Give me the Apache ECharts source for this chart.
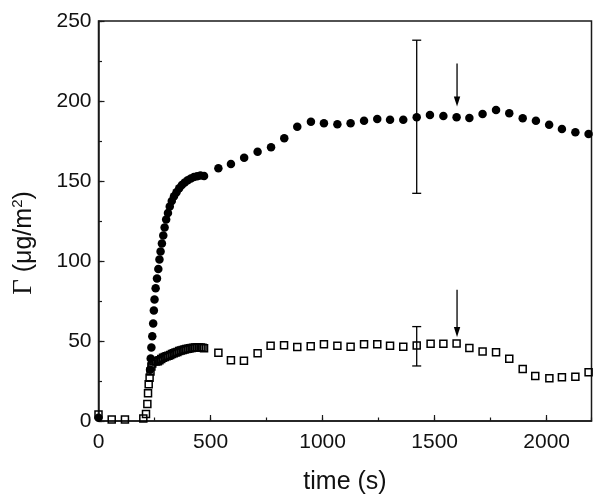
<!DOCTYPE html>
<html><head><meta charset="utf-8">
<script src="https://cdn.jsdelivr.net/npm/echarts@6/dist/echarts.min.js"></script>
<style>html,body{margin:0;padding:0;background:#fff}#c{width:600px;height:504px}</style>
</head><body><div id="c"></div>
<script>
// filled circles series
const filledT = [0, 230, 233, 236, 240, 244, 247, 250, 255, 261, 267, 272, 277, 283, 289, 295, 302, 310, 318, 327, 337, 348, 360, 372, 385, 398, 412, 426, 440, 455, 471, 535, 591, 650, 710, 770, 829, 887, 948, 1006, 1066, 1125, 1185, 1244, 1301, 1360, 1420, 1479, 1539, 1598, 1655, 1714, 1774, 1833, 1893, 1952, 2011, 2068, 2128, 2187];
const filledV = [2, 32, 39, 46, 53, 61, 69, 76, 83, 89, 95, 101, 106, 111, 116, 121, 126, 130, 134, 137.5, 140.5, 143, 145.5, 147.5, 149, 150.5, 151.5, 152.5, 153, 153.5, 153.1, 157.9, 160.6, 164.6, 168.3, 171.1, 176.7, 183.9, 187, 186.1, 185.5, 186.1, 187.7, 188.7, 188.3, 188.3, 189.8, 191.2, 190.6, 189.8, 189.4, 191.9, 194.4, 192.3, 189.2, 187.7, 185.2, 182.5, 180.4, 179.4];
// open squares series
const openT = [0, 59, 118, 200, 212, 218, 221, 224, 228, 232, 236, 240, 245, 250, 257, 265, 272, 280, 288, 296, 304, 312, 320, 328, 336, 344, 352, 360, 368, 376, 384, 392, 400, 408, 416, 424, 432, 440, 448, 456, 464, 471, 535, 591, 649, 710, 768, 828, 887, 947, 1006, 1066, 1125, 1185, 1244, 1301, 1360, 1420, 1482, 1539, 1598, 1655, 1714, 1774, 1833, 1893, 1949, 2012, 2068, 2128, 2187];
const openV = [4, 1, 1, 1.5, 4.4, 10.6, 17.3, 23, 27, 31, 34, 36, 37.3, 37.5, 37.2, 37.3, 38, 38.8, 39.5, 40, 40.4, 40.8, 41.2, 41.8, 42.3, 42.8, 43.2, 43.7, 44.1, 44.4, 44.7, 45, 45.2, 45.4, 45.6, 45.8, 45.9, 46, 46, 46, 45.8, 45.4, 42.7, 38, 37.7, 42.3, 47, 47.3, 46.2, 46.7, 48, 47, 46.4, 47.9, 47.9, 47.1, 46.4, 47.2, 48.3, 48.3, 48.4, 45.6, 43.5, 42.9, 38.9, 32.5, 28.1, 26.7, 27.3, 27.7, 30.4];
// error bars: [time, low, high]
const errorBars = [[1420, 142.3, 238], [1420, 34.4, 59]];
// arrows: [time, tail value, tip value]
const arrows = [[1600, 223.5, 196.5], [1600, 82, 52.5]];
const xTicks = [0, 500, 1000, 1500, 2000];
const yTicks = [0, 50, 100, 150, 200, 250];

const AX = '#1a1a1a';
const FONT = 'Liberation Sans, Arial, sans-serif';
const chart = echarts.init(document.getElementById('c'), null, {renderer: 'canvas'});

const filled = filledT.map((t, i) => [t, filledV[i]]);
const open = openT.map((t, i) => [t, openV[i]]);

const minorX = {
  type: 'value', min: 0, max: 2200, interval: 250, position: 'bottom',
  axisLine: {show: false, onZero: false},
  axisTick: {show: true, inside: true, length: 3.5, lineStyle: {color: AX, width: 1.2}},
  axisLabel: {show: false}, splitLine: {show: false}
};
const minorY = {
  type: 'value', min: 0, max: 250, interval: 25, position: 'left',
  axisLine: {show: false, onZero: false},
  axisTick: {show: true, inside: true, length: 3.5, lineStyle: {color: AX, width: 1.2}},
  axisLabel: {show: false}, splitLine: {show: false}
};

chart.setOption({
  animation: false,
  backgroundColor: '#fff',
  grid: {left: 98.5, right: 8.5, top: 21, bottom: 83, show: true, borderColor: AX, borderWidth: 1.5, backgroundColor: 'transparent'},
  xAxis: [{
    type: 'value', min: xTicks[0], max: 2200, interval: xTicks[1] - xTicks[0],
    axisLine: {show: true, onZero: false, lineStyle: {color: AX, width: 1.5}},
    axisTick: {show: true, inside: true, length: 6, lineStyle: {color: AX, width: 1.2}},
    axisLabel: {show: true, margin: 11, color: '#111', fontSize: 21, fontFamily: FONT, showMaxLabel: false,
      formatter: v => String(v)},
    splitLine: {show: false}
  }, minorX],
  yAxis: [{
    type: 'value', min: yTicks[0], max: yTicks[yTicks.length - 1], interval: yTicks[1] - yTicks[0], position: 'left',
    axisLine: {show: true, onZero: false, lineStyle: {color: AX, width: 1.5}},
    axisTick: {show: true, inside: true, length: 6, lineStyle: {color: AX, width: 1.2}},
    axisLabel: {show: true, margin: 7, color: '#111', fontSize: 21, fontFamily: FONT, formatter: v => String(v)},
    splitLine: {show: false}
  }, minorY],
  graphic: [{
    type: 'text', x: 345, y: 482,
    style: {text: 'time (s)', font: '25px ' + FONT, fill: '#111', align: 'center', verticalAlign: 'middle'}
  }, {
    type: 'text', x: 24, y: 243, rotation: Math.PI / 2,
    style: {
      text: '{g|Γ} (μg/m{s|2})', align: 'center', verticalAlign: 'middle',
      font: '25px ' + FONT, fill: '#111',
      rich: {
        g: {font: '27px Liberation Serif, Times New Roman, serif', fill: '#111'},
        s: {font: '15px ' + FONT, fill: '#111', verticalAlign: 'top', padding: [0, 0, 13, 0]}
      }
    }
  }],
  series: [{
    type: 'scatter', data: filled, symbol: 'circle', symbolSize: 8.5,
    itemStyle: {color: '#000', opacity: 1}, z: 2, clip: false
  }, {
    type: 'scatter', data: open, symbol: 'rect', symbolSize: 7,
    itemStyle: {color: 'rgba(0,0,0,0)', borderColor: '#000', borderWidth: 1.5, opacity: 1}, z: 3, clip: false
  }, {
    type: 'custom', data: errorBars, z: 4,
    renderItem: function (params, api) {
      const x = api.value(0);
      const p1 = api.coord([x, api.value(1)]);
      const p2 = api.coord([x, api.value(2)]);
      const w = 4.5, st = {stroke: '#000', lineWidth: 1.3};
      return {type: 'group', children: [
        {type: 'line', shape: {x1: p1[0], y1: p1[1], x2: p2[0], y2: p2[1]}, style: st},
        {type: 'line', shape: {x1: p1[0] - w, y1: p1[1], x2: p1[0] + w, y2: p1[1]}, style: st},
        {type: 'line', shape: {x1: p2[0] - w, y1: p2[1], x2: p2[0] + w, y2: p2[1]}, style: st}
      ]};
    }
  }, {
    type: 'custom', data: arrows, z: 4,
    renderItem: function (params, api) {
      const x = api.value(0);
      const a = api.coord([x, api.value(1)]);
      const b = api.coord([x, api.value(2)]);
      const hl = 10, hw = 3.2;
      return {type: 'group', children: [
        {type: 'line', shape: {x1: a[0], y1: a[1], x2: b[0], y2: b[1] - hl + 1}, style: {stroke: '#000', lineWidth: 1.3}},
        {type: 'polygon', shape: {points: [[b[0], b[1]], [b[0] - hw, b[1] - hl], [b[0] + hw, b[1] - hl]]}, style: {fill: '#000'}}
      ]};
    }
  }]
});
</script></body></html>
